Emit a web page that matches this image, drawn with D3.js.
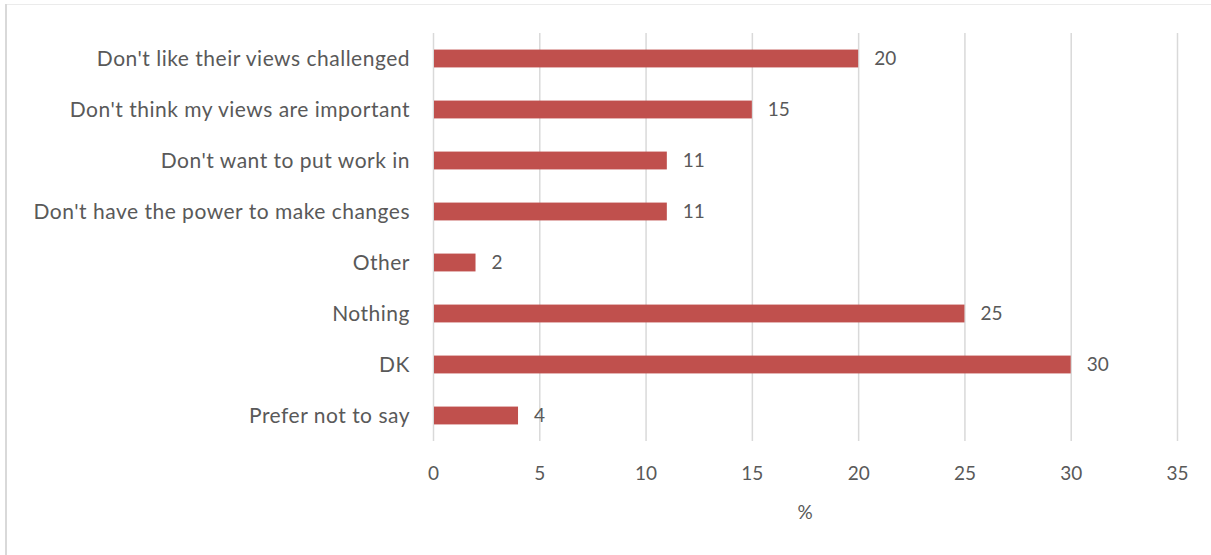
<!DOCTYPE html>
<html>
<head>
<meta charset="utf-8">
<script src="https://cdn.jsdelivr.net/npm/d3@7"></script>
<style>
  html, body { margin: 0; padding: 0; background: #ffffff; }
  svg { display: block; }
  text { font-family: Lato, "Open Sans", sans-serif; fill: #595959; }
</style>
</head>
<body>
<svg id="chart" width="1211" height="555"></svg>
<script>
// Survey responses (%)
const categories = [
  "Don't like their views challenged",
  "Don't think my views are important",
  "Don't want to put work in",
  "Don't have the power to make changes",
  "Other",
  "Nothing",
  "DK",
  "Prefer not to say"
];
const values = [20, 15, 11, 11, 2, 25, 30, 4];
const xTicks = [0, 5, 10, 15, 20, 25, 30, 35];
const xAxisTitle = "%";

const W = 1211, H = 555;
const plot = { left: 433, right: 1177, top: 33, bottom: 441 };

const svg = d3.select("#chart");

// chart area frame
svg.append("line")
  .attr("x1", 5).attr("x2", W).attr("y1", 4.5).attr("y2", 4.5)
  .attr("stroke", "#ebebeb").attr("stroke-width", 1);
svg.append("line")
  .attr("x1", 6).attr("x2", 6).attr("y1", 4).attr("y2", H)
  .attr("stroke", "#d9d9d9").attr("stroke-width", 2);

const x = d3.scaleLinear().domain([0, 35]).range([plot.left, plot.right]);
const y = d3.scaleBand().domain(categories)
  .range([plot.top, plot.bottom])
  .paddingInner(0.65).paddingOuter(0.325);

// vertical gridlines + tick labels
const xAxis = d3.axisBottom(x)
  .tickValues(xTicks)
  .tickSize(-(plot.bottom - plot.top))
  .tickSizeOuter(0)
  .tickFormat(d3.format("d"));

const gx = svg.append("g")
  .attr("transform", `translate(0,${plot.bottom})`)
  .call(xAxis);
gx.select(".domain").remove();
gx.selectAll(".tick line").attr("stroke", "#d9d9d9").attr("stroke-width", 1.5);
gx.selectAll(".tick text")
  .attr("y", 32).attr("dy", "0.35em")
  .style("font-family", "Lato, 'Open Sans', sans-serif")
  .style("font-size", "19px")
  .attr("fill", "#595959");

// category labels
svg.append("g").selectAll("text")
  .data(categories)
  .join("text")
  .attr("x", plot.left - 23)
  .attr("y", d => y(d) + y.bandwidth() / 2)
  .attr("dy", "0.35em")
  .attr("text-anchor", "end")
  .style("font-size", "21px")
  .style("letter-spacing", "0.5px")
  .text(d => d);

// bars
const data = categories.map((c, i) => ({ c, v: values[i] }));
svg.append("g").selectAll("rect")
  .data(data)
  .join("rect")
  .attr("x", x(0) + 1)
  .attr("y", d => y(d.c))
  .attr("width", d => x(d.v) - x(0) - 1)
  .attr("height", y.bandwidth())
  .attr("fill", "#c0504d");

// value labels
svg.append("g").selectAll("text")
  .data(data)
  .join("text")
  .attr("x", d => x(d.v) + 16)
  .attr("y", d => y(d.c) + y.bandwidth() / 2)
  .attr("dy", "0.35em")
  .style("font-size", "19px")
  .text(d => d.v);

// axis title
svg.append("text")
  .attr("x", (plot.left + plot.right) / 2)
  .attr("y", 512)
  .attr("dy", "0.35em")
  .attr("text-anchor", "middle")
  .style("font-size", "19px")
  .text(xAxisTitle);
</script>
</body>
</html>
